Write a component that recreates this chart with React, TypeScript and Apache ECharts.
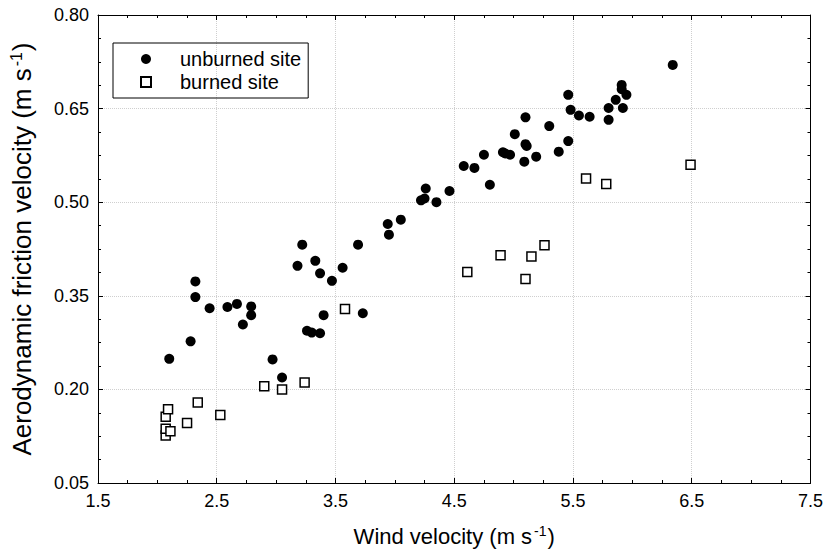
import React, { useEffect, useRef } from "react";
import * as echarts from "echarts";

const unburnedX = [2.10, 2.28, 2.32, 2.32, 2.44, 2.59, 2.67, 2.72, 2.79, 2.79, 2.97, 3.05, 3.18, 3.22, 3.26, 3.30, 3.33, 3.37, 3.37, 3.40, 3.47, 3.56, 3.69, 3.73, 3.94, 3.95, 4.05, 4.22, 4.25, 4.26, 4.35, 4.46, 4.58, 4.67, 4.75, 4.80, 4.91, 4.93, 4.97, 5.01, 5.09, 5.10, 5.11, 5.10, 5.19, 5.30, 5.38, 5.46, 5.46, 5.48, 5.55, 5.64, 5.80, 5.80, 5.86, 5.91, 5.91, 5.92, 5.95, 6.34];
const unburnedY = [0.249, 0.277, 0.373, 0.348, 0.330, 0.332, 0.337, 0.304, 0.333, 0.319, 0.248, 0.219, 0.398, 0.432, 0.294, 0.291, 0.406, 0.386, 0.290, 0.319, 0.374, 0.395, 0.432, 0.322, 0.465, 0.448, 0.472, 0.503, 0.506, 0.522, 0.500, 0.518, 0.558, 0.555, 0.576, 0.528, 0.580, 0.578, 0.576, 0.609, 0.565, 0.593, 0.590, 0.636, 0.573, 0.622, 0.581, 0.598, 0.672, 0.648, 0.639, 0.637, 0.632, 0.651, 0.664, 0.688, 0.681, 0.651, 0.672, 0.720];

const burnedX = [2.07, 2.07, 2.11, 2.07, 2.09, 2.25, 2.34, 2.53, 2.90, 3.05, 3.24, 3.58, 4.61, 4.89, 5.10, 5.15, 5.26, 5.61, 5.78, 6.49];
const burnedY = [0.126, 0.137, 0.133, 0.156, 0.168, 0.146, 0.179, 0.159, 0.205, 0.200, 0.211, 0.329, 0.388, 0.415, 0.377, 0.413, 0.431, 0.538, 0.529, 0.560];

const seriesNames = ["unburned site", "burned site"];
const xTitle = "Wind velocity (m s";
const yTitle = "Aerodynamic friction velocity (m s";
const supText = "-1";

const FONT = "'Liberation Sans', Arial, Helvetica, sans-serif";

export default function App() {
  const ref = useRef<HTMLDivElement>(null);
  useEffect(() => {
    if (!ref.current) return;
    const chart = echarts.init(ref.current, undefined, { renderer: "svg" });
    const baseAxis = {
      type: "value" as const,
      axisLine: { show: true, onZero: false, lineStyle: { color: "#000", width: 1 } },
      axisTick: { show: true, inside: true, length: 5, lineStyle: { color: "#000" } },
      minorTick: { show: true, splitNumber: 4, length: 3, lineStyle: { color: "#000" } },
    };
    const xCommon = { ...baseAxis, min: 1.5, max: 7.5, interval: 1 };
    const yCommon = { ...baseAxis, min: 0.05, max: 0.8, interval: 0.15 };
    const rich = {
      t: { fontSize: 22, fontFamily: FONT, color: "#000" },
      s: { fontSize: 14, fontFamily: FONT, color: "#000", verticalAlign: "top", padding: [0, 1, 10, 2] },
    };
    const yRich = {
      t: { fontSize: 26, fontFamily: FONT, color: "#000" },
      s: { fontSize: 16, fontFamily: FONT, color: "#000", verticalAlign: "top", padding: [0, 1, 12, 2] },
    };
    chart.setOption({
      animation: false,
      backgroundColor: "#fff",
      grid: { left: 96, right: 14, top: 15, bottom: 72, show: false },
      legend: {
        orient: "vertical",
        left: 113,
        top: 43,
        padding: [6, 7, 6, 27],
        itemWidth: 10,
        itemHeight: 10,
        itemGap: 3,
        borderColor: "#000",
        borderWidth: 1,
        textStyle: { fontSize: 20, fontFamily: FONT, color: "#000", padding: [0, 0, 0, 24] },
        data: [
          { name: seriesNames[0], icon: "circle" },
          { name: seriesNames[1], icon: "rect" },
        ],
      },
      xAxis: [
        {
          ...xCommon,
          position: "bottom",
          name: `{t|${xTitle}}{s|${supText}}{t|)}`,
          nameLocation: "middle",
          nameGap: 41,
          nameTextStyle: { rich },
          axisLabel: {
            margin: 9,
            fontSize: 18,
            fontFamily: FONT,
            color: "#000",
            formatter: (v: number) => v.toFixed(1),
          },
          splitLine: { show: true, lineStyle: { color: "#cfcfcf", type: "dotted", width: 1 } },
        },
        {
          ...xCommon,
          position: "top",
          axisLabel: { show: false },
          splitLine: { show: false },
        },
      ],
      yAxis: [
        {
          ...yCommon,
          position: "left",
          name: `{t|${yTitle}}{s|${supText}}{t|)}`,
          nameLocation: "middle",
          nameRotate: 90,
          nameGap: 62,
          nameTextStyle: { rich: yRich },
          axisLabel: {
            margin: 9,
            fontSize: 18,
            fontFamily: FONT,
            color: "#000",
            formatter: (v: number) => v.toFixed(2),
          },
          splitLine: { show: true, lineStyle: { color: "#cfcfcf", type: "dotted", width: 1 } },
        },
        {
          ...yCommon,
          position: "right",
          axisLabel: { show: false },
          splitLine: { show: false },
        },
      ],
      series: [
        {
          name: seriesNames[0],
          type: "scatter",
          symbol: "circle",
          symbolSize: 10,
          itemStyle: { color: "#000", opacity: 1 },
          data: unburnedX.map((x, i) => [x, unburnedY[i]]),
        },
        {
          name: seriesNames[1],
          type: "scatter",
          symbol: "rect",
          symbolSize: 9,
          itemStyle: { color: "#fff", borderColor: "#000", borderWidth: 1.5, opacity: 1 },
          data: burnedX.map((x, i) => [x, burnedY[i]]),
        },
      ],
    });
    return () => chart.dispose();
  }, []);
  return <div ref={ref} style={{ width: 826, height: 555, position: "absolute", left: 0, top: 0 }} />;
}
